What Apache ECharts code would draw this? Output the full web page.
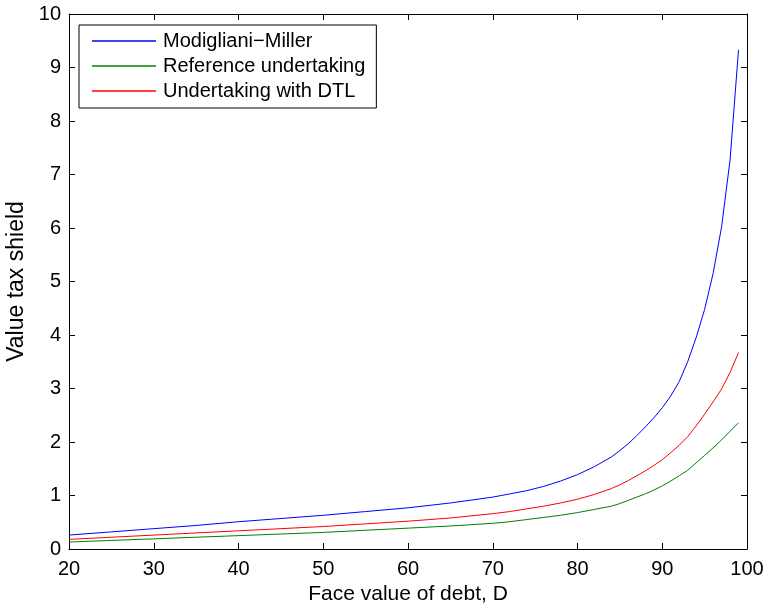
<!DOCTYPE html>
<html>
<head>
<meta charset="utf-8">
<script src="https://cdn.jsdelivr.net/npm/echarts@6/dist/echarts.min.js"></script>
<style>
html,body{margin:0;padding:0;background:#fff;overflow:hidden;}
#chart{width:765px;height:605px;}
</style>
</head>
<body>
<div id="chart"></div>
<script>
// Face value of debt, D
var debtFace = [20,25,30,35,40,45,50,55,60,65,70,72,74,76,78,80,82,84,85,86,87,88,89,90,91,92,93,94,95,96,97,98,99];
// Modigliani-Miller
var mmValues = [0.26,0.32,0.38,0.44,0.51,0.57,0.63,0.70,0.77,0.86,0.97,1.03,1.09,1.17,1.27,1.39,1.54,1.72,1.84,1.97,2.12,2.28,2.45,2.64,2.86,3.13,3.50,3.95,4.48,5.15,6.02,7.27,9.33];
// Reference undertaking
var refValues = [0.13,0.16,0.19,0.22,0.25,0.28,0.31,0.35,0.39,0.43,0.48,0.51,0.55,0.59,0.63,0.68,0.74,0.80,0.85,0.91,0.97,1.03,1.10,1.18,1.27,1.37,1.47,1.61,1.75,1.89,2.04,2.20,2.36];
// Undertaking with DTL
var dtlValues = [0.18,0.22,0.26,0.30,0.34,0.38,0.42,0.47,0.52,0.58,0.66,0.70,0.75,0.80,0.86,0.93,1.02,1.13,1.20,1.28,1.37,1.46,1.56,1.67,1.80,1.94,2.10,2.30,2.52,2.75,2.99,3.30,3.67];

var seriesNames = ['Modigliani\u2212Miller','Reference undertaking','Undertaking with DTL'];
var seriesColors = ['#0000ff','#008000','#ff0000'];
var xTicks = ['20','30','40','50','60','70','80','90','100'];
var yTicks = ['0','1','2','3','4','5','6','7','8','9','10'];

function pairs(xs, ys){ return xs.map(function(x,i){ return [x, ys[i]]; }); }

var FONT = '"Liberation Sans", Arial, Helvetica, sans-serif';
var axisCommon = {
  axisLine:{show:true, onZero:false, lineStyle:{color:'#000', width:1}},
  axisTick:{show:true, inside:true, length:6, lineStyle:{color:'#000', width:1}},
  splitLine:{show:false}
};

var chart = echarts.init(document.getElementById('chart'), null, {renderer:'canvas'});
chart.setOption({
  animation:false,
  backgroundColor:'#fff',
  color: seriesColors,
  grid:{left:69, top:14, right:18, bottom:56, containLabel:false, outerBoundsMode:'none'},
  legend:{
    data: seriesNames.map(function(n,i){ return {name:n, itemStyle:{color:seriesColors[i]}}; }),
    orient:'vertical',
    left:79, top:25,
    backgroundColor:'#fff',
    borderColor:'#000', borderWidth:1, borderRadius:0,
    padding:[6,11,7,13],
    itemWidth:64, itemHeight:1.5,
    itemGap:5,
    icon:'rect',
    textStyle:{fontFamily:FONT, fontSize:20, lineHeight:20, color:'#000', padding:[0,0,0,2]}
  },
  xAxis:[
    Object.assign({}, axisCommon, {
      type:'value', min:20, max:100, interval:10, position:'bottom',
      name:'Face value of debt, D', nameLocation:'middle', nameGap:34,
      nameTextStyle:{fontFamily:FONT, fontSize:21, color:'#000'},
      axisLabel:{fontFamily:FONT, fontSize:20, color:'#000', margin:10,
        formatter:function(v){ return xTicks[Math.round((v-20)/10)]; }}
    }),
    Object.assign({}, axisCommon, {
      type:'value', min:20, max:100, interval:10, position:'top',
      axisLabel:{show:false}
    })
  ],
  yAxis:[
    Object.assign({}, axisCommon, {
      type:'value', min:0, max:10, interval:1, position:'left',
      name:'Value tax shield', nameLocation:'middle', nameGap:40, nameRotate:90,
      nameTextStyle:{fontFamily:FONT, fontSize:23, color:'#000'},
      axisLabel:{fontFamily:FONT, fontSize:20, color:'#000', margin:8,
        formatter:function(v){ return yTicks[Math.round(v)]; }}
    }),
    Object.assign({}, axisCommon, {
      type:'value', min:0, max:10, interval:1, position:'right',
      axisLabel:{show:false}
    })
  ],
  series:[
    {name:seriesNames[0], type:'line', data:pairs(debtFace, mmValues), symbol:'none', smooth:false,
     lineStyle:{color:seriesColors[0], width:1}, itemStyle:{color:seriesColors[0]}},
    {name:seriesNames[1], type:'line', data:pairs(debtFace, refValues), symbol:'none', smooth:false,
     lineStyle:{color:seriesColors[1], width:1}, itemStyle:{color:seriesColors[1]}},
    {name:seriesNames[2], type:'line', data:pairs(debtFace, dtlValues), symbol:'none', smooth:false,
     lineStyle:{color:seriesColors[2], width:1}, itemStyle:{color:seriesColors[2]}}
  ]
});
</script>
</body>
</html>
